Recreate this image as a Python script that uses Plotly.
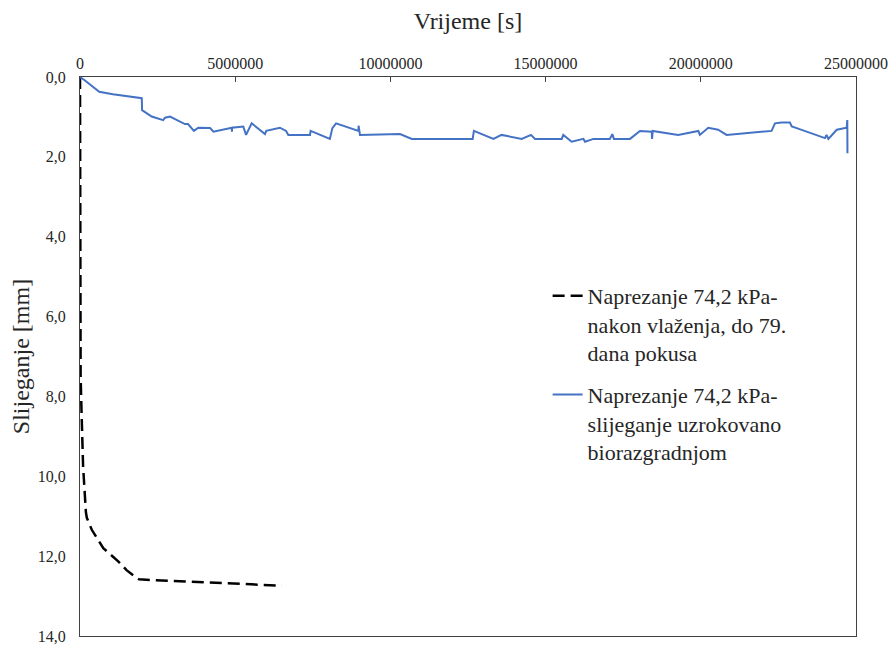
import plotly.graph_objects as go

# Black dashed series: time [s], settlement [mm]
black_t = [0, 600, 3600, 20000, 50000, 70000, 100000, 190000, 220000, 380000,
           750000, 1230000, 1500000, 1830000, 1900000, 2360000, 3970000, 6500000]
black_y = [0.0, 2.0, 5.0, 7.5, 8.4, 8.9, 9.75, 10.9, 11.04, 11.34,
           11.8, 12.13, 12.35, 12.55, 12.58, 12.6, 12.65, 12.74]

# Blue series: time [s], settlement [mm]
blue_t = [0, 150000, 620000, 1060000, 1990000, 2000000, 2310000, 2680000, 2740000, 2900000,
          3380000, 3480000, 3670000, 3810000, 4190000, 4300000, 4890000, 4895000, 4900000,
          5260000, 5350000, 5530000, 5960000, 6000000, 6440000, 6640000, 6710000, 7410000,
          7430000, 8050000, 8130000, 8250000, 8970000, 8975000, 9020000, 10310000, 10690000,
          12650000, 12690000, 13320000, 13580000, 14230000, 14530000, 14660000, 15520000,
          15570000, 15840000, 16220000, 16270000, 16540000, 17070000, 17150000, 17200000,
          17720000, 18040000, 18420000, 18430000, 18450000, 19270000, 19920000, 19970000,
          20240000, 20560000, 20830000, 22280000, 22390000, 22600000, 22870000, 22930000,
          23090000, 24000000, 24050000, 24110000, 24380000, 24700000, 24720000, 24725000]
blue_y = [0.0, 0.08, 0.37, 0.43, 0.53, 0.83, 0.99, 1.08, 1.02, 0.99,
          1.18, 1.18, 1.35, 1.27, 1.28, 1.37, 1.27, 1.37, 1.27,
          1.24, 1.45, 1.16, 1.43, 1.35, 1.27, 1.35, 1.45, 1.45,
          1.35, 1.55, 1.28, 1.16, 1.35, 1.22, 1.45, 1.43, 1.55,
          1.55, 1.35, 1.55, 1.45, 1.55, 1.45, 1.55, 1.55,
          1.45, 1.62, 1.55, 1.62, 1.55, 1.55, 1.43, 1.55,
          1.55, 1.35, 1.37, 1.55, 1.35, 1.45, 1.35, 1.45,
          1.27, 1.32, 1.45, 1.35, 1.16, 1.14, 1.14, 1.24,
          1.28, 1.53, 1.45, 1.55, 1.32, 1.27, 1.08, 1.91]

name_black = "Naprezanje 74,2 kPa-<br>nakon vlaženja, do 79.<br>dana pokusa"
name_blue = "Naprezanje 74,2 kPa-<br>slijeganje uzrokovano<br>biorazgradnjom"

x_ticks = [0, 5000000, 10000000, 15000000, 20000000, 25000000]
y_ticks = [0, 2, 4, 6, 8, 10, 12, 14]

font_family = "'Times New Roman', 'Liberation Serif', 'DejaVu Serif', serif"
axis_color = "#404040"
text_color = "#262626"

fig = go.Figure()
fig.add_trace(go.Scatter(x=black_t, y=black_y, mode="lines", name=name_black,
                         legendgroup="a",
                         line=dict(color="black", width=2.5, dash="12px,6px")))
fig.add_trace(go.Scatter(x=blue_t, y=blue_y, mode="lines", name=name_blue,
                         legendgroup="b",
                         line=dict(color="#4472C4", width=2)))

fig.update_layout(
    width=888, height=638,
    margin=dict(l=72, r=40, t=69, b=10),
    paper_bgcolor="white", plot_bgcolor="white",
    separators=", ",
    font=dict(family=font_family, color=text_color),
    showlegend=True,
    legend=dict(x=0.6026, y=0.646, xanchor="left", yanchor="top",
                valign="top", tracegroupgap=10,
                font=dict(family=font_family, size=22, color=text_color),
                bgcolor="rgba(0,0,0,0)"),
    xaxis=dict(
        side="top", range=[0, 25000000], tickvals=x_ticks, tickformat="d",
        showgrid=False, zeroline=False, showline=True, linecolor=axis_color,
        linewidth=1.3, mirror=True, ticks="inside", ticklen=5, tickcolor=axis_color,
        automargin=False,
        tickfont=dict(family=font_family, size=16, color=text_color),
        title=dict(text="Vrijeme [s]", font=dict(family=font_family, size=24, color=text_color),
                   standoff=20),
    ),
    yaxis=dict(
        range=[14, 0], tickvals=y_ticks, tickformat=".1f",
        showgrid=False, zeroline=False, showline=True, linecolor=axis_color,
        linewidth=1.3, mirror=True, ticks="",
        automargin=False,
        ticklabelstandoff=10,
        tickfont=dict(family=font_family, size=16, color=text_color),
        title=dict(text="Slijeganje [mm]", font=dict(family=font_family, size=24, color=text_color),
                   standoff=6),
    ),
)

fig.write_html("out.html")
